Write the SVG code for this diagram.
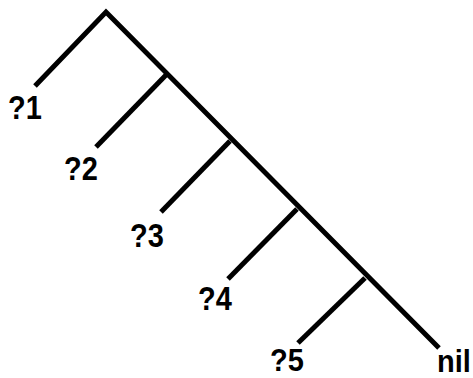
<svg xmlns="http://www.w3.org/2000/svg" width="473" height="378" viewBox="0 0 473 378">
<style>
.e{stroke:#000;stroke-width:5;fill:none;stroke-linecap:butt}
.t{font-family:"Liberation Sans",Arial,sans-serif;font-weight:bold;font-size:29px;fill:#000}
</style>
<rect width="473" height="378" fill="#fff"/>
<g id="connectors">
<path class="e" d="M35,86 L106,12 L439,348"/>
<path class="e" d="M166,75 L96,147"/>
<path class="e" d="M230,141 L161,212"/>
<path class="e" d="M297,209 L228,279"/>
<path class="e" d="M365,278 L298,343"/>
</g>
<g id="n1"><text class="t" transform="translate(8,119) scale(1,1.12)">?1</text></g>
<g id="n2"><text class="t" transform="translate(64,180) scale(1,1.12)">?2</text></g>
<g id="n3"><text class="t" transform="translate(130,247) scale(1,1.12)">?3</text></g>
<g id="n4"><text class="t" transform="translate(198,310) scale(1,1.12)">?4</text></g>
<g id="n5"><text class="t" transform="translate(270,371) scale(1,1.08)">?5</text></g>
<g id="nil"><text class="t" transform="translate(437,372) scale(1,1.08)">nil</text></g>
</svg>
